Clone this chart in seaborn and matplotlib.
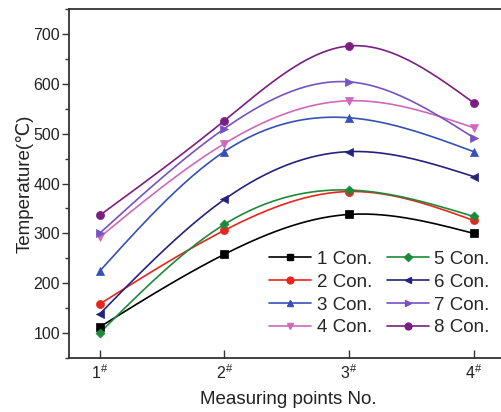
import numpy as np
import pandas as pd
import matplotlib
matplotlib.use("Agg")
import matplotlib.pyplot as plt
from matplotlib.lines import Line2D
from matplotlib.ticker import MultipleLocator
import seaborn as sns

# Measuring points and temperatures (°C) for each condition
points = [1, 2, 3, 4]
tick_labels = ["1$^{\\#}$", "2$^{\\#}$", "3$^{\\#}$", "4$^{\\#}$"]
series_names = ["1 Con.", "2 Con.", "3 Con.", "4 Con.",
                "5 Con.", "6 Con.", "7 Con.", "8 Con."]
con1 = [112, 258, 338, 300]
con2 = [158, 306, 384, 326]
con3 = [224, 464, 532, 464]
con4 = [292, 480, 566, 512]
con5 = [100, 318, 387, 334]
con6 = [138, 368, 464, 414]
con7 = [300, 510, 604, 492]
con8 = [336, 526, 676, 562]
values = [con1, con2, con3, con4, con5, con6, con7, con8]

colors = ["#000000", "#e8261e", "#3551b4", "#d068bc",
          "#1d8a3a", "#24227c", "#7652c2", "#7a1f80"]
markers = ["s", "o", "^", "v", "D", "<", ">", "o"]
msizes = [5.2, 5.8, 5.8, 5.8, 4.6, 5.8, 5.8, 5.8]


def natural_spline(x, y, n=200):
    """Natural cubic spline through (x, y), evaluated on a fine grid."""
    x = np.asarray(x, float)
    y = np.asarray(y, float)
    m = len(x)
    h = np.diff(x)
    A = np.zeros((m, m))
    b = np.zeros(m)
    A[0, 0] = A[-1, -1] = 1
    for i in range(1, m - 1):
        A[i, i - 1] = h[i - 1]
        A[i, i] = 2 * (h[i - 1] + h[i])
        A[i, i + 1] = h[i]
        b[i] = 6 * ((y[i + 1] - y[i]) / h[i] - (y[i] - y[i - 1]) / h[i - 1])
    M = np.linalg.solve(A, b)
    xs = np.linspace(x[0], x[-1], n)
    idx = np.clip(np.searchsorted(x, xs) - 1, 0, m - 2)
    x0, x1 = x[idx], x[idx + 1]
    hh = x1 - x0
    ys = (M[idx] * (x1 - xs) ** 3 / (6 * hh) + M[idx + 1] * (xs - x0) ** 3 / (6 * hh)
          + (y[idx] / hh - M[idx] * hh / 6) * (x1 - xs)
          + (y[idx + 1] / hh - M[idx + 1] * hh / 6) * (xs - x0))
    return xs, ys


sns.set_style("ticks")
plt.rcParams["font.family"] = ["Liberation Sans", "DejaVu Sans"]
plt.rcParams["mathtext.fontset"] = "custom"
plt.rcParams["mathtext.rm"] = "Liberation Sans"

fig = plt.figure(figsize=(5.01, 4.12), dpi=100)
ax = fig.add_axes([0.1377, 0.131, 0.875, 0.847])

df = pd.DataFrame({
    "point": np.tile(points, len(series_names)),
    "temp": np.concatenate(values),
    "series": np.repeat(series_names, len(points)),
})

for name, vals, c in zip(series_names, values, colors):
    xs, ys = natural_spline(points, vals)
    ax.plot(xs, ys, color=c, lw=1.2, zorder=2)

for name, c, mk, ms in zip(series_names, colors, markers, msizes):
    sub = df[df["series"] == name]
    sns.scatterplot(data=sub, x="point", y="temp", color=c, marker=mk,
                    s=ms ** 2, edgecolor=c, linewidth=0.5, ax=ax,
                    legend=False, zorder=3)

ax.set_xlim(0.755, 4.27)
ax.set_ylim(50, 750)
ax.set_xticks(points)
ax.set_xticklabels(tick_labels)
ax.yaxis.set_major_locator(MultipleLocator(100))
ax.yaxis.set_minor_locator(MultipleLocator(50))
ax.set_yticks([100, 200, 300, 400, 500, 600, 700])
ax.tick_params(axis="y", which="major", direction="out", length=5, width=1,
               labelsize=11.5, colors="#333333", labelcolor="#222222", pad=1.5)
ax.tick_params(axis="y", which="minor", direction="out", length=3, width=1,
               colors="#333333")
ax.tick_params(axis="x", which="major", direction="in", length=6, width=1,
               labelsize=11.5, colors="#333333", labelcolor="#222222", pad=4)

for sp in ax.spines.values():
    sp.set_linewidth(1.3)
    sp.set_color("#333333")

ax.set_xlabel("Measuring points No.", fontsize=13.5, color="#222222", labelpad=6)
ax.set_ylabel("Temperature(℃)", fontsize=13.5, color="#222222", labelpad=0)

handles = [Line2D([0], [0], color=c, lw=1.2, marker=mk, markersize=ms * 0.85,
                  markeredgecolor=c)
           for c, mk, ms in zip(colors, markers, msizes)]
ax.legend(handles, series_names, ncol=2, frameon=False, fontsize=13.5,
          loc="lower right", bbox_to_anchor=(0.985, 0.03),
          handlelength=2.25, handletextpad=0.27, columnspacing=0.8,
          labelspacing=0.3, borderaxespad=0.2)

fig.savefig("out.png", dpi=100)
